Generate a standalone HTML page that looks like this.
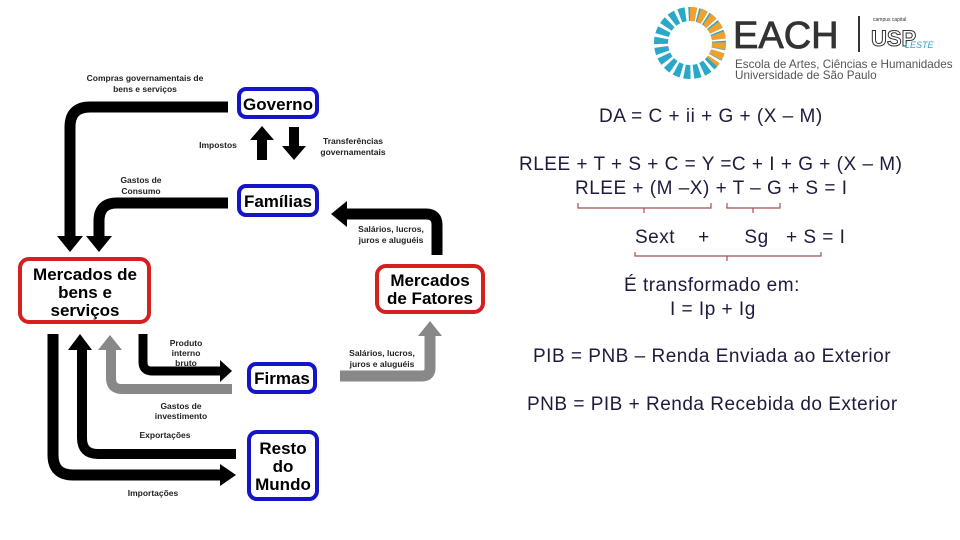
<!DOCTYPE html>
<html><head><meta charset="utf-8"><style>
html,body{margin:0;padding:0;background:#fff}
body{width:960px;height:540px;position:relative;overflow:hidden;font-family:"Liberation Sans",sans-serif}
.t{position:absolute;color:#1c1c3c;font-size:19px;letter-spacing:0.5px;white-space:nowrap}
</style></head><body>
<svg width="960" height="540" style="position:absolute;left:0;top:0" font-family="Liberation Sans, DejaVu Sans, sans-serif">
<g fill="none" stroke-linejoin="round">
 <path d="M228,107 H90 Q70,107 70,127 V238" stroke="#000" stroke-width="11"/>
 <polygon points="57,236 83,236 70,252" fill="#000"/>
 <path d="M228,203 H117 Q99,203 99,221 V238" stroke="#000" stroke-width="11"/>
 <polygon points="86,236 112,236 99,252" fill="#000"/>
 <path d="M437,255 V225 Q437,214 426,214 H345" stroke="#000" stroke-width="11"/>
 <polygon points="347,201 347,227 331,214" fill="#000"/>
 <path d="M262,160 V138" stroke="#000" stroke-width="10"/>
 <polygon points="250,140 274,140 262,126" fill="#000"/>
 <path d="M294,127 V148" stroke="#000" stroke-width="10"/>
 <polygon points="282,146 306,146 294,160" fill="#000"/>
 <path d="M143,334 V362 Q143,371 152,371 H222" stroke="#000" stroke-width="9"/>
 <polygon points="220,360 220,382 232,371" fill="#000"/>
 <path d="M232,389 H122 Q111,389 111,378 V348" stroke="#888" stroke-width="10"/>
 <polygon points="98,350 122,350 110,335" fill="#888"/>
 <path d="M236,454 H98 Q82,454 82,438 V348" stroke="#000" stroke-width="10"/>
 <polygon points="68,350 92,350 80,334" fill="#000"/>
 <path d="M53,334 V455 Q53,475 73,475 H222" stroke="#000" stroke-width="11"/>
 <polygon points="220,464 220,486 236,475" fill="#000"/>
 <path d="M340,376 H422 Q430,376 430,368 V334" stroke="#888" stroke-width="11"/>
 <polygon points="418,336 442,336 430,321" fill="#888"/>
</g>
<g stroke-width="4" fill="#fff">
 <rect x="239" y="89" width="78" height="28" rx="7" stroke="#1515c8"/>
 <rect x="239" y="186" width="78" height="29" rx="7" stroke="#1515c8"/>
 <rect x="20" y="259" width="129" height="63" rx="9" stroke="#d42020"/>
 <rect x="377" y="266" width="106" height="46" rx="9" stroke="#d42020"/>
 <rect x="249" y="364" width="66" height="28" rx="7" stroke="#1515c8"/>
 <rect x="249" y="432" width="68" height="67" rx="8" stroke="#1515c8"/>
</g>
<g font-weight="bold" fill="#000" text-anchor="middle" font-size="17">
 <text x="278" y="110">Governo</text>
 <text x="278" y="207">Famílias</text>
 <text x="85" y="280">Mercados de</text>
 <text x="85" y="298">bens e</text>
 <text x="85" y="316">serviços</text>
 <text x="430" y="286">Mercados</text>
 <text x="430" y="304">de Fatores</text>
 <text x="282" y="384">Firmas</text>
 <text x="283" y="454">Resto</text>
 <text x="283" y="472">do</text>
 <text x="283" y="490">Mundo</text>
</g>
<g font-weight="bold" fill="#222" font-size="8.5" text-anchor="middle">
 <text x="145" y="81">Compras governamentais de</text>
 <text x="145" y="92">bens e serviços</text>
 <text x="218" y="148">Impostos</text>
 <text x="353" y="144">Transferências</text>
 <text x="353" y="155">governamentais</text>
 <text x="141" y="183">Gastos de</text>
 <text x="141" y="194">Consumo</text>
 <text x="391" y="232">Salários, lucros,</text>
 <text x="391" y="243">juros e aluguéis</text>
 <text x="186" y="346">Produto</text>
 <text x="186" y="356">interno</text>
 <text x="186" y="366">bruto</text>
 <text x="382" y="356">Salários, lucros,</text>
 <text x="382" y="367">juros e aluguéis</text>
 <text x="181" y="409">Gastos de</text>
 <text x="181" y="419">investimento</text>
 <text x="165" y="438">Exportações</text>
 <text x="153" y="496">Importações</text>
</g>
<g stroke="#a05050" stroke-width="1.2" fill="none">
 <path d="M578,203 V208 H711 V203 M644,208 V213"/>
 <path d="M727,203 V208 H780 V203 M753,208 V213"/>
 <path d="M635,252 V256 H821 V252 M727,256 V261"/>
</g>
<g>
 <circle cx="690" cy="43" r="29" fill="none" stroke="#2aa8c8" stroke-width="14" stroke-dasharray="6 3"/>
 <path d="M690,14 A29,29 0 0,1 712,62" fill="none" stroke="#f0a030" stroke-width="14" stroke-dasharray="6 3"/>
 <text x="733" y="48" font-size="38" fill="#333" stroke="#333" stroke-width="0.8">EACH</text>
 <rect x="858" y="16" width="2" height="36" fill="#333"/>
 <text x="873" y="21" font-size="5" fill="#333">campus capital</text>
 <text x="871" y="46" font-size="22" font-weight="bold" fill="#fff" stroke="#333" stroke-width="1">USP</text>
 <text x="905" y="48" font-size="9" fill="#2aa8c8" font-style="italic">LESTE</text>
 <text x="735" y="68" font-size="11.7" fill="#555">Escola de Artes, Ciências e Humanidades</text>
 <text x="735" y="79" font-size="11.7" fill="#555">Universidade de São Paulo</text>
</g>
</svg>
<div class="t" style="left:599px;top:106px">DA = C + ii + G + (X – M)</div>
<div class="t" style="left:519px;top:154px">RLEE + T + S + C = Y =C + I + G + (X – M)</div>
<div class="t" style="left:575px;top:178px">RLEE + (M –X) + T – G + S = I</div>
<div class="t" style="left:635px;top:227px">Sext &nbsp;&nbsp; + &nbsp;&nbsp;&nbsp;&nbsp; Sg &nbsp; + S = I</div>
<div class="t" style="left:624px;top:275px">É transformado em:</div>
<div class="t" style="left:670px;top:299px">I = Ip + Ig</div>
<div class="t" style="left:533px;top:346px">PIB = PNB – Renda Enviada ao Exterior</div>
<div class="t" style="left:527px;top:394px">PNB = PIB + Renda Recebida do Exterior</div>
</body></html>
